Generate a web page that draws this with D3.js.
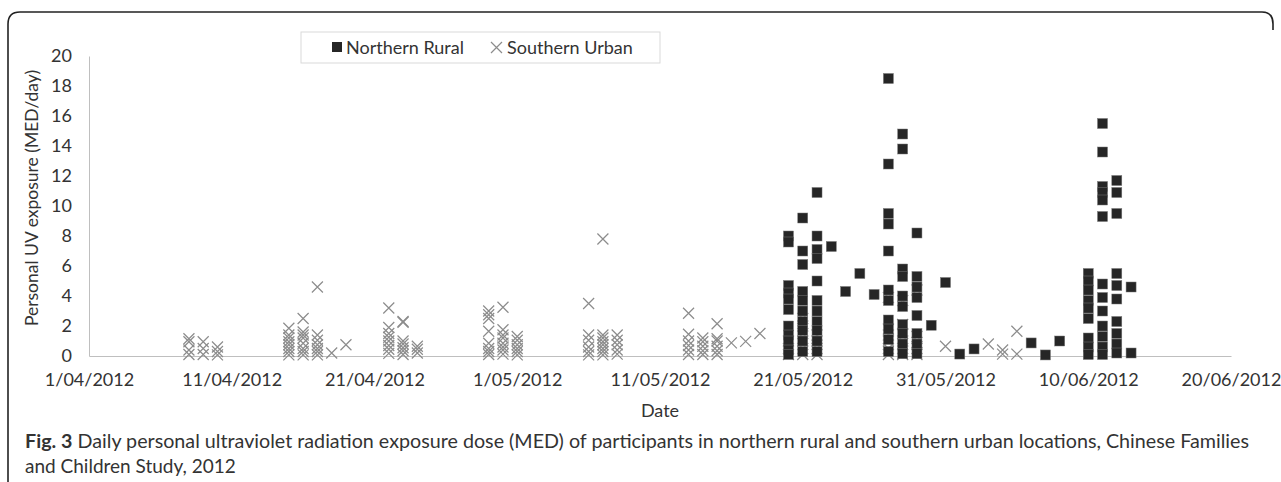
<!DOCTYPE html>
<html>
<head>
<meta charset="utf-8">
<script src="https://cdn.jsdelivr.net/npm/d3@7"></script>
<style>
  body { margin: 0; background: #fff; }
  svg text { font-family: Lato, "Open Sans", sans-serif; }
</style>
</head>
<body>
<svg id="chart" width="1281" height="482"></svg>
<script>
// x axis tick labels (every 10 days)
var tickDates = ['2012-04-01', '2012-04-11', '2012-04-21', '2012-05-01', '2012-05-11',
  '2012-05-21', '2012-05-31', '2012-06-10', '2012-06-20']
var yTicks = [0, 2, 4, 6, 8, 10, 12, 14, 16, 18, 20]

// Northern Rural: measurement dates and daily doses (MED/day)
var ruralDates = ['2012-05-20', '2012-05-21', '2012-05-22', '2012-05-23', '2012-05-24', '2012-05-25',
  '2012-05-26', '2012-05-27', '2012-05-28', '2012-05-29', '2012-05-30', '2012-05-31', '2012-06-01',
  '2012-06-02', '2012-06-06', '2012-06-07', '2012-06-08', '2012-06-10', '2012-06-11', '2012-06-12',
  '2012-06-13']
var ruralValues = [
  [8.0, 7.6, 4.7, 4.2, 3.8, 3.1, 2.0, 1.4, 1.0, 0.4, 0.1],
  [9.2, 7.0, 6.1, 4.3, 3.7, 3.0, 2.3, 1.7, 1.0, 0.3],
  [10.9, 8.0, 7.1, 6.5, 5.0, 3.7, 3.0, 2.3, 1.7, 1.0, 0.3],
  [7.3],
  [4.3],
  [5.5],
  [4.1],
  [18.5, 12.8, 9.5, 8.8, 7.0, 4.4, 3.7, 2.4, 1.8, 1.1, 0.3],
  [14.8, 13.8, 5.8, 5.3, 4.0, 3.3, 2.1, 1.5, 0.8, 0.15],
  [8.2, 5.3, 4.6, 3.9, 2.7, 1.5, 0.8, 0.15],
  [2.05],
  [4.9],
  [0.13],
  [0.47],
  [0.87],
  [0.07],
  [1.0],
  [5.5, 5.0, 4.4, 3.7, 3.2, 2.5, 1.2, 0.6, 0.1],
  [15.5, 13.6, 11.3, 10.9, 10.4, 9.3, 4.8, 3.9, 3.0, 2.0, 1.3, 0.6, 0.1],
  [11.7, 10.9, 9.5, 5.5, 4.7, 3.8, 2.3, 1.5, 0.8, 0.2],
  [4.6, 0.2]
]

// Southern Urban: measurement dates and daily doses (MED/day)
var urbanDates = ['2012-04-08', '2012-04-09', '2012-04-10', '2012-04-15', '2012-04-16', '2012-04-17',
  '2012-04-18', '2012-04-19', '2012-04-22', '2012-04-23', '2012-04-24', '2012-04-29', '2012-04-30',
  '2012-05-01', '2012-05-06', '2012-05-07', '2012-05-08', '2012-05-13', '2012-05-14', '2012-05-15',
  '2012-05-16', '2012-05-17', '2012-05-18', '2012-05-20', '2012-05-21', '2012-05-22', '2012-05-27',
  '2012-05-28', '2012-05-29', '2012-05-31', '2012-06-03', '2012-06-04', '2012-06-05']
var urbanValues = [
  [1.15, 0.95, 0.4, 0.1],
  [0.95, 0.5, 0.1],
  [0.6, 0.3, 0.07],
  [1.85, 1.4, 1.2, 0.95, 0.75, 0.5, 0.3, 0.07],
  [2.5, 1.6, 1.4, 1.2, 0.85, 0.5, 0.3, 0.07],
  [4.6, 1.4, 1.05, 0.75, 0.5, 0.3, 0.07],
  [0.2],
  [0.75],
  [3.2, 1.9, 1.5, 1.25, 1.0, 0.7, 0.45, 0.18],
  [2.3, 2.25, 1.0, 0.8, 0.55, 0.35, 0.1],
  [0.65, 0.45, 0.2],
  [3.0, 2.75, 2.5, 1.65, 0.85, 0.5, 0.3, 0.1],
  [3.25, 1.75, 1.4, 1.2, 0.85, 0.6, 0.4, 0.13],
  [1.3, 1.05, 0.75, 0.5, 0.3, 0.07],
  [3.5, 1.4, 1.05, 0.6, 0.3, 0.07],
  [7.8, 1.4, 1.2, 0.95, 0.75, 0.5, 0.3, 0.07],
  [1.4, 1.05, 0.75, 0.4, 0.13],
  [2.85, 1.45, 1.0, 0.7, 0.4, 0.1],
  [1.2, 0.95, 0.65, 0.35, 0.1],
  [2.15, 1.15, 1.0, 0.65, 0.35, 0.1],
  [0.87],
  [0.97],
  [1.5],
  [1.0, 0.5, 0.1],
  [2.5, 2.0, 1.5, 1.0, 0.5, 0.1],
  [1.4, 1.0, 0.5, 0.1],
  [3.9, 1.8, 1.4, 1.0, 0.5, 0.1],
  [3.7, 2.1, 1.5, 1.0, 0.5, 0.1],
  [4.4, 1.3, 0.9, 0.5, 0.1],
  [0.65],
  [0.8],
  [0.4, 0.13],
  [1.65, 0.13]
]

var parseDate = d3.timeParse('%Y-%m-%d')
var fmt = d3.timeFormat('%-d/%m/%Y')

function flatten (dates, values) {
  var out = []
  dates.forEach(function (d, i) {
    values[i].forEach(function (v) { out.push({date: parseDate(d), v: v}) })
  })
  return out
}
var rural = flatten(ruralDates, ruralValues)
var urban = flatten(urbanDates, urbanValues)

var svg = d3.select('#chart')

// figure frame (top and left edges with rounded corners)
svg.append('path')
  .attr('d', 'M8,490 L8,24 Q8,12 20,12 L1262,12 Q1273,12 1273,24 L1273,30')
  .attr('fill', 'none')
  .attr('stroke', '#222')
  .attr('stroke-width', 1.6)

var x = d3.scaleTime()
  .domain([parseDate(tickDates[0]), parseDate(tickDates[tickDates.length - 1])])
  .range([89, 1231])

var y = d3.scaleLinear()
  .domain([0, 20])
  .range([356, 56])

// y axis
var yAxis = svg.append('g')
  .attr('transform', 'translate(89,0)')
  .call(d3.axisLeft(y).tickValues(yTicks).tickSize(0).tickPadding(17))
yAxis.select('.domain').attr('stroke', '#bfbfbf')
yAxis.selectAll('text').attr('font-size', 18).attr('fill', '#333')

// x axis
var xAxis = svg.append('g')
  .attr('transform', 'translate(0,356)')
  .call(d3.axisBottom(x).tickValues(tickDates.map(parseDate)).tickFormat(fmt).tickSize(0).tickPadding(17))
xAxis.select('.domain').attr('stroke', '#bfbfbf')
xAxis.selectAll('text').attr('font-size', 18).attr('fill', '#333')

// axis titles
svg.append('text')
  .attr('transform', 'translate(38,198) rotate(-90)')
  .attr('text-anchor', 'middle')
  .attr('font-size', 17.5)
  .attr('fill', '#333')
  .text('Personal UV exposure (MED/day)')

svg.append('text')
  .attr('x', 660).attr('y', 417)
  .attr('text-anchor', 'middle')
  .attr('font-size', 18)
  .attr('fill', '#333')
  .text('Date')

// Southern Urban crosses
var c = 5.5
svg.append('g').selectAll('path')
  .data(urban)
  .enter().append('path')
  .attr('d', function (d) {
    var px = x(d.date), py = y(d.v)
    return 'M' + (px - c) + ',' + (py - c) + 'L' + (px + c) + ',' + (py + c) +
      'M' + (px - c) + ',' + (py + c) + 'L' + (px + c) + ',' + (py - c)
  })
  .attr('stroke', '#8c8c8c')
  .attr('stroke-width', 1.2)
  .attr('fill', 'none')

// Northern Rural squares
var s = 10
svg.append('g').selectAll('rect')
  .data(rural)
  .enter().append('rect')
  .attr('x', function (d) { return x(d.date) - s / 2 })
  .attr('y', function (d) { return y(d.v) - s / 2 })
  .attr('width', s)
  .attr('height', s)
  .attr('fill', '#262626')
  .attr('stroke', '#777')
  .attr('stroke-width', 0.5)

// legend
var lg = svg.append('g').attr('transform', 'translate(0,4)')
lg.append('rect')
  .attr('x', 301).attr('y', 28).attr('width', 359).attr('height', 31)
  .attr('fill', '#fff').attr('stroke', '#d9d9d9')
lg.append('rect')
  .attr('x', 332).attr('y', 38).attr('width', 10).attr('height', 10)
  .attr('fill', '#262626')
lg.append('text')
  .attr('x', 346).attr('y', 50).attr('font-size', 18).attr('fill', '#333')
  .text('Northern Rural')
lg.append('path')
  .attr('d', 'M491,38L502,49M491,49L502,38')
  .attr('stroke', '#8c8c8c').attr('stroke-width', 1.2)
lg.append('text')
  .attr('x', 507).attr('y', 50).attr('font-size', 18).attr('fill', '#333')
  .text('Southern Urban')

// caption
var cap1 = svg.append('text')
  .attr('x', 25).attr('y', 448)
  .attr('font-size', 19)
  .attr('fill', '#333')
  .attr('textLength', 1224)
  .attr('lengthAdjust', 'spacingAndGlyphs')
cap1.append('tspan').attr('font-weight', 'bold').text('Fig. 3')
cap1.append('tspan').text(' Daily personal ultraviolet radiation exposure dose (MED) of participants in northern rural and southern urban locations, Chinese Families')

svg.append('text')
  .attr('x', 25).attr('y', 473)
  .attr('font-size', 19)
  .attr('fill', '#333')
  .text('and Children Study, 2012')
</script>
</body>
</html>
